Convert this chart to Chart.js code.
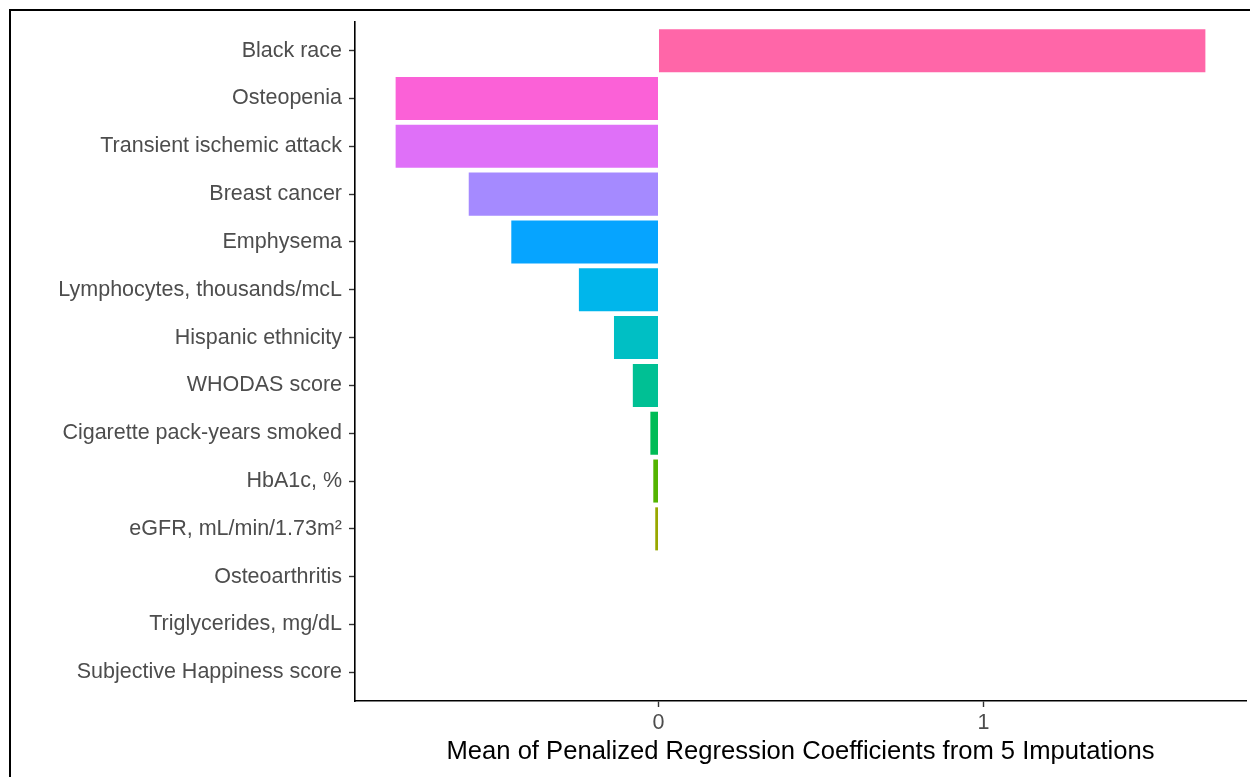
<!DOCTYPE html>
<html>
<head>
<meta charset="utf-8">
<script src="https://cdn.jsdelivr.net/npm/chart.js@4/dist/chart.umd.min.js"></script>
<style>
    html, body { margin: 0; padding: 0; background: #fff; }
    #frame {
        position: absolute; left: 9px; top: 9px; width: 1300px; height: 800px;
        border-left: 2px solid #000; border-top: 2px solid #000;
    }
    #chartBox { position: absolute; left: 0; top: 0; width: 1250px; height: 777px; }
</style>
</head>
<body>
<div id="frame"></div>
<div id="chartBox"><canvas id="chart"></canvas></div>
<script>
    'use strict';

    // predictors, top to bottom
    const categories = ['Black race', 'Osteopenia', 'Transient ischemic attack', 'Breast cancer', 'Emphysema',
        'Lymphocytes, thousands/mcL', 'Hispanic ethnicity', 'WHODAS score', 'Cigarette pack-years smoked',
        'HbA1c, %', 'eGFR, mL/min/1.73m\u00B2', 'Osteoarthritis', 'Triglycerides, mg/dL', 'Subjective Happiness score'];

    // mean coefficient
    const coefficients = [1.683, -0.809, -0.809, -0.584, -0.453, -0.245, -0.137, -0.079, -0.025, -0.016, -0.010, 0, 0, 0];

    // ggplot hue palette for 14 levels, matched to rows above
    const barColors = ['#FF66A8', '#FB61D7', '#DF70F8', '#A58AFF', '#06A4FF', '#00B6EB', '#00BFC4', '#00C094',
        '#00BC56', '#53B400', '#99A800', '#C49A00', '#E38900', '#F8766D'];

    const xTicks = [0, 1];
    const xTitle = 'Mean of Penalized Regression Coefficients from 5 Imputations';

    window.addEventListener('load', init);

    function init() {
        let points = coefficients.map((v, i) => ({ x: v, y: i }));

        let config = {
            type: 'bar',
            data: {
                datasets: [{
                    data: points,
                    backgroundColor: barColors,
                    borderWidth: 0,
                    barPercentage: 0.9,
                    categoryPercentage: 1
                }]
            },
            options: {
                indexAxis: 'y',
                responsive: true,
                maintainAspectRatio: false,
                animation: false,
                layout: { padding: { top: 22, right: 4, bottom: 0, left: 0 } },
                plugins: { legend: { display: false }, tooltip: { enabled: false } },
                scales: {
                    x: {
                        type: 'linear',
                        min: -0.934,
                        max: 1.808,
                        afterBuildTicks: (s) => { s.ticks = xTicks.map(v => ({ value: v })); },
                        afterFit: (s) => { s.height = 76; },
                        border: { display: true, color: '#000', width: 1.6 },
                        grid: { drawOnChartArea: false, drawTicks: true, tickLength: 6, tickColor: '#333', tickWidth: 1.4 },
                        ticks: {
                            color: '#4D4D4D', padding: 3,
                            font: { family: 'Liberation Sans', size: 21.5 }
                        },
                        title: {
                            display: true, text: xTitle, color: '#000',
                            padding: { top: 0, bottom: 10 },
                            font: { family: 'Liberation Sans', size: 25.6 }
                        }
                    },
                    y: {
                        type: 'linear',
                        reverse: true,
                        offset: false,
                        min: -0.6,
                        max: 13.6,
                        afterBuildTicks: (s) => { s.ticks = categories.map((c, i) => ({ value: i })); },
                        afterFit: (s) => { s.width = 355; },
                        border: { display: true, color: '#000', width: 1.6 },
                        grid: { offset: false, drawOnChartArea: false, drawTicks: true, tickLength: 6, tickColor: '#333', tickWidth: 1.4 },
                        ticks: {
                            autoSkip: false, color: '#4D4D4D', padding: 7,
                            font: { family: 'Liberation Sans', size: 21.5 },
                            callback: (v) => categories[v]
                        }
                    }
                }
            }
        };

        new Chart(document.getElementById('chart'), config);
    }
</script>
</body>
</html>
